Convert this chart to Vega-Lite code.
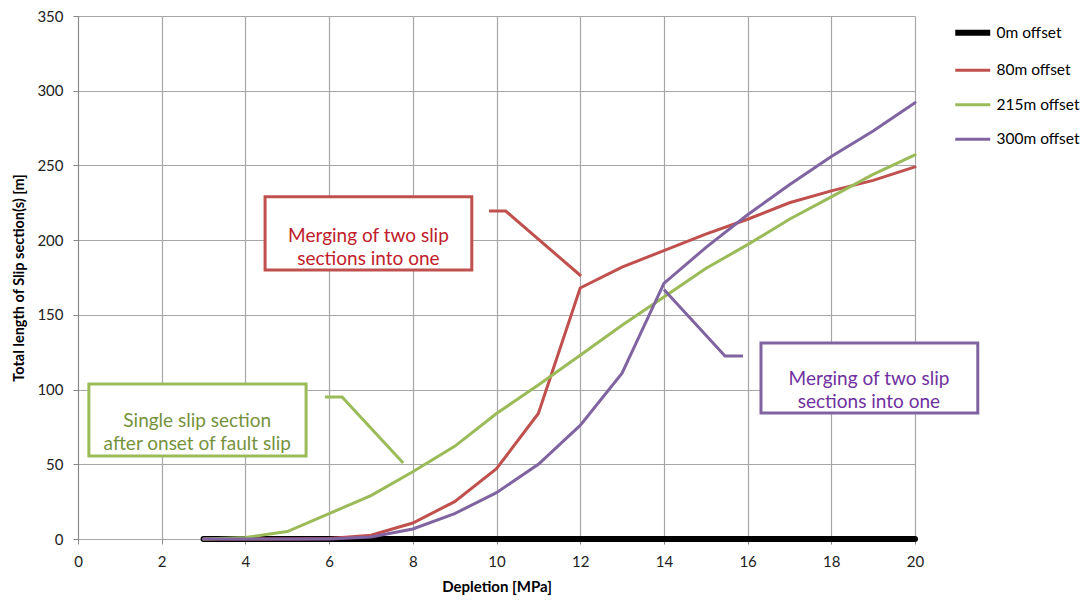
{
  "$schema": "https://vega.github.io/schema/vega-lite/v6.json",
  "width": 837,
  "height": 523,
  "autosize": "none",
  "padding": {"left": 78, "top": 16, "right": 168, "bottom": 62},
  "background": "white",
  "config": {
    "font": "Lato",
    "view": {"stroke": null},
    "axis": {
      "labelFont": "Lato", "titleFont": "Lato", "labelFontSize": 15, "labelColor": "#222",
      "titleFontSize": 15, "titleFontWeight": "bold", "titleColor": "#000",
      "gridColor": "#A6A6A6", "gridWidth": 1.2, "domainColor": "#888", "tickColor": "#888", "tickSize": 5
    }
  },
  "datasets": {
    "series": [
      {"depletion": 3, "length": 0, "series": "0m offset"},
      {"depletion": 20, "length": 0, "series": "0m offset"},
      {"depletion": 3, "length": 0, "series": "80m offset"},
      {"depletion": 4, "length": 0, "series": "80m offset"},
      {"depletion": 5, "length": 0, "series": "80m offset"},
      {"depletion": 6, "length": 0.3, "series": "80m offset"},
      {"depletion": 7, "length": 2.5, "series": "80m offset"},
      {"depletion": 8, "length": 10.7, "series": "80m offset"},
      {"depletion": 9, "length": 25, "series": "80m offset"},
      {"depletion": 10, "length": 47, "series": "80m offset"},
      {"depletion": 11, "length": 84, "series": "80m offset"},
      {"depletion": 12, "length": 168, "series": "80m offset"},
      {"depletion": 13, "length": 182, "series": "80m offset"},
      {"depletion": 14, "length": 193, "series": "80m offset"},
      {"depletion": 15, "length": 204, "series": "80m offset"},
      {"depletion": 16, "length": 214, "series": "80m offset"},
      {"depletion": 17, "length": 225, "series": "80m offset"},
      {"depletion": 18, "length": 233, "series": "80m offset"},
      {"depletion": 19, "length": 240, "series": "80m offset"},
      {"depletion": 20, "length": 249, "series": "80m offset"},
      {"depletion": 3, "length": 0, "series": "215m offset"},
      {"depletion": 4, "length": 1, "series": "215m offset"},
      {"depletion": 5, "length": 5, "series": "215m offset"},
      {"depletion": 6, "length": 17, "series": "215m offset"},
      {"depletion": 7, "length": 29, "series": "215m offset"},
      {"depletion": 8, "length": 45, "series": "215m offset"},
      {"depletion": 9, "length": 62, "series": "215m offset"},
      {"depletion": 10, "length": 84, "series": "215m offset"},
      {"depletion": 11, "length": 103, "series": "215m offset"},
      {"depletion": 12, "length": 123, "series": "215m offset"},
      {"depletion": 13, "length": 143, "series": "215m offset"},
      {"depletion": 14, "length": 162, "series": "215m offset"},
      {"depletion": 15, "length": 181, "series": "215m offset"},
      {"depletion": 16, "length": 197, "series": "215m offset"},
      {"depletion": 17, "length": 214, "series": "215m offset"},
      {"depletion": 18, "length": 229, "series": "215m offset"},
      {"depletion": 19, "length": 244, "series": "215m offset"},
      {"depletion": 20, "length": 257, "series": "215m offset"},
      {"depletion": 3, "length": 0, "series": "300m offset"},
      {"depletion": 4, "length": 0, "series": "300m offset"},
      {"depletion": 5, "length": 0, "series": "300m offset"},
      {"depletion": 6, "length": 0, "series": "300m offset"},
      {"depletion": 7, "length": 1.3, "series": "300m offset"},
      {"depletion": 8, "length": 6.7, "series": "300m offset"},
      {"depletion": 9, "length": 17, "series": "300m offset"},
      {"depletion": 10, "length": 31, "series": "300m offset"},
      {"depletion": 11, "length": 50, "series": "300m offset"},
      {"depletion": 12, "length": 76, "series": "300m offset"},
      {"depletion": 13, "length": 111, "series": "300m offset"},
      {"depletion": 14, "length": 171, "series": "300m offset"},
      {"depletion": 15, "length": 195, "series": "300m offset"},
      {"depletion": 16, "length": 217, "series": "300m offset"},
      {"depletion": 17, "length": 237, "series": "300m offset"},
      {"depletion": 18, "length": 256, "series": "300m offset"},
      {"depletion": 19, "length": 273, "series": "300m offset"},
      {"depletion": 20, "length": 292, "series": "300m offset"}
    ],
    "boxes": [
      {"group": "red", "x1": 4.47, "x2": 9.41, "y1": 229, "y2": 180},
      {"group": "green", "x1": 0.26, "x2": 5.45, "y1": 103.7, "y2": 55.6},
      {"group": "purple", "x1": 16.32, "x2": 21.5, "y1": 131.2, "y2": 84.3}
    ],
    "connectors": [
      {"group": "red", "order": 1, "x": 9.82, "y": 219.5},
      {"group": "red", "order": 2, "x": 10.22, "y": 219.5},
      {"group": "red", "order": 3, "x": 12.02, "y": 176},
      {"group": "green", "order": 1, "x": 5.9, "y": 95},
      {"group": "green", "order": 2, "x": 6.31, "y": 95},
      {"group": "green", "order": 3, "x": 7.77, "y": 50.9},
      {"group": "purple", "order": 1, "x": 14.0, "y": 167},
      {"group": "purple", "order": 2, "x": 15.46, "y": 122.5},
      {"group": "purple", "order": 3, "x": 15.89, "y": 122.5}
    ],
    "labels": [
      {"group": "red", "x": 6.94, "y": 202.5, "text": "Merging of two slip\nsections into one"},
      {"group": "green", "x": 2.85, "y": 79.3, "text": "Single slip section\nafter onset of fault slip"},
      {"group": "purple", "x": 18.9, "y": 106.8, "text": "Merging of two slip\nsections into one"}
    ]
  },
  "layer": [
    {
      "data": {"name": "series"},
      "mark": {"type": "line", "strokeCap": "round"},
      "encoding": {
        "x": {
          "field": "depletion", "type": "quantitative",
          "scale": {"domain": [0, 20], "nice": false, "zero": false},
          "axis": {"values": [0, 2, 4, 6, 8, 10, 12, 14, 16, 18, 20], "title": "Depletion [MPa]", "labelFlush": false, "labelPadding": 10, "titlePadding": 10, "domain": false}
        },
        "y": {
          "field": "length", "type": "quantitative",
          "scale": {"domain": [0, 350], "nice": false},
          "axis": {"values": [0, 50, 100, 150, 200, 250, 300, 350], "title": "Total length of Slip section(s) [m]", "titleFontSize": 14.5, "labelPadding": 10, "titlePadding": 10}
        },
        "color": {
          "field": "series", "type": "nominal",
          "scale": {"domain": ["0m offset", "80m offset", "215m offset", "300m offset"], "range": ["#000000", "#C0504D", "#9BBB59", "#8064A2"]},
          "legend": {
            "title": null, "orient": "none", "legendX": 887, "legendY": 9,
            "symbolType": "stroke", "symbolSize": 1225, "symbolStrokeWidth": 3,
            "labelFontSize": 15.5, "labelFont": "Lato", "labelColor": "#000", "labelOffset": 16,
            "rowPadding": 17.5, "labelLimit": 200,
            "encode": {"symbols": {"update": {"strokeWidth": {"signal": "datum.value === '0m offset' ? 6 : 3"}}}}
          }
        },
        "strokeWidth": {"condition": {"test": "datum.series === '0m offset'", "value": 6}, "value": 3},
        "order": {"field": "depletion", "type": "quantitative"}
      }
    },
    {
      "layer": [
        {
          "data": {"name": "boxes"},
          "mark": {"type": "rect", "fill": "white", "strokeWidth": 3, "filled": false},
          "encoding": {
            "x": {"field": "x1", "type": "quantitative"},
            "x2": {"field": "x2"},
            "y": {"field": "y1", "type": "quantitative"},
            "y2": {"field": "y2"},
            "stroke": {"field": "group", "type": "nominal", "scale": {"domain": ["red", "green", "purple"], "range": ["#C0504D", "#9BBB59", "#8064A2"]}, "legend": null}
          }
        },
        {
          "data": {"name": "connectors"},
          "mark": {"type": "line", "strokeWidth": 3},
          "encoding": {
            "x": {"field": "x", "type": "quantitative"},
            "y": {"field": "y", "type": "quantitative"},
            "detail": {"field": "group"},
            "order": {"field": "order", "type": "quantitative"},
            "stroke": {"field": "group", "type": "nominal", "scale": {"domain": ["red", "green", "purple"], "range": ["#C0504D", "#9BBB59", "#8064A2"]}, "legend": null}
          }
        },
        {
          "data": {"name": "labels"},
          "mark": {"type": "text", "fontSize": 19, "font": "Lato", "lineBreak": "\n", "lineHeight": 23, "align": "center", "baseline": "middle"},
          "encoding": {
            "x": {"field": "x", "type": "quantitative"},
            "y": {"field": "y", "type": "quantitative"},
            "text": {"field": "text"},
            "fill": {"field": "group", "type": "nominal", "scale": {"domain": ["red", "green", "purple"], "range": ["#C0202A", "#76923C", "#7030A0"]}, "legend": null}
          }
        }
      ]
    }
  ],
  "resolve": {"scale": {"color": "independent"}}
}
